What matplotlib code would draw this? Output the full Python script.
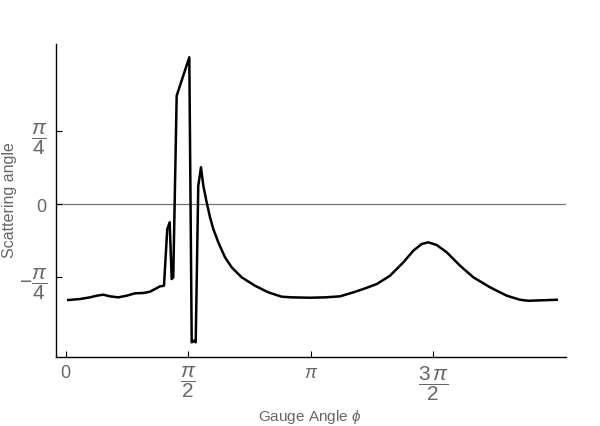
import numpy as np
import matplotlib
matplotlib.use("Agg")
import matplotlib.pyplot as plt

plt.rcParams['mathtext.fontset'] = 'custom'
plt.rcParams['mathtext.rm'] = 'Liberation Sans'
plt.rcParams['mathtext.it'] = 'Liberation Sans:italic'
plt.rcParams['font.family'] = ['Liberation Sans', 'DejaVu Sans']

# Data (radians)
phi = [0.030, 0.180, 0.308, 0.394, 0.479, 0.565, 0.671, 0.779, 0.886, 0.992,
       1.078, 1.142, 1.207, 1.258, 1.300, 1.331, 1.357, 1.377, 1.421, 1.583,
       1.614, 1.643, 1.665, 1.698, 1.733, 1.763, 1.806, 1.849, 1.891, 1.955,
       2.041, 2.127, 2.255, 2.426, 2.597, 2.769, 2.897, 3.132, 3.325, 3.517,
       3.688, 3.816, 3.988, 4.159, 4.330, 4.458, 4.566, 4.651, 4.759, 4.887,
       5.058, 5.229, 5.443, 5.657, 5.828, 5.935, 6.299]
theta = [-1.040, -1.029, -1.011, -0.993, -0.982, -1.000, -1.011, -0.993, -0.967, -0.964,
         -0.950, -0.921, -0.892, -0.885, -0.271, -0.198, -0.813, -0.794, 1.173, 1.589,
         -1.498, -1.481, -1.498, 0.198, 0.398, 0.198, 0.018, -0.144, -0.271, -0.415,
         -0.577, -0.686, -0.794, -0.885, -0.957, -1.004, -1.011, -1.015, -1.011, -1.000,
         -0.957, -0.921, -0.867, -0.777, -0.632, -0.506, -0.433, -0.415, -0.444, -0.523,
         -0.668, -0.794, -0.902, -0.993, -1.037, -1.048, -1.037]

xticks = [0, np.pi/2, np.pi, 3*np.pi/2]
xticklabels = [r'$\mathrm{0}$', r'$\dfrac{\pi}{2}$', r'$\pi$', r'$\dfrac{3\,\pi}{2}$']
yticks = [-np.pi/4, 0, np.pi/4]
yticklabels = [r'$-\dfrac{\pi}{4}$', r'$\mathrm{0}$', r'$\dfrac{\pi}{4}$']

fig = plt.figure(figsize=(6, 4.27), dpi=100)
ax = fig.add_axes([56/600, 1-358/427, 510/600, 313/427])
ax.set_xlim(-0.128, 6.418)
ax.set_ylim(-1.657, 1.733)

ax.axhline(0, color='#777777', lw=0.9, zorder=1)
ax.plot(phi, theta, color='black', lw=1.8, solid_joinstyle='round', zorder=3)

for s in ['top', 'right']:
    ax.spines[s].set_visible(False)
for s in ['left', 'bottom']:
    ax.spines[s].set_linewidth(1.0)

gray = '#666666'
ax.set_xticks(xticks)
ax.set_xticklabels(xticklabels, fontsize=15, color=gray)
ax.set_yticks(yticks)
ax.set_yticklabels(yticklabels, fontsize=15, color=gray)
ax.tick_params(direction='in', length=4, width=0.8)
ax.tick_params(axis='x', pad=5)
ax.tick_params(axis='y', pad=6)
for lab in ax.get_xticklabels():
    lab.set_verticalalignment('top')
for lab in [ax.get_xticklabels()[0], ax.get_xticklabels()[2]]:
    lab.set_fontsize(13)
ax.get_yticklabels()[1].set_fontsize(13)

fig.text(310/600, 1-417/427, r'Gauge Angle $\phi$', fontsize=11, color=gray,
         ha='center', va='center')
fig.text(10/600, 1-200/427, 'Scattering angle', fontsize=11.5, color=gray,
         ha='center', va='center', rotation=90)

fig.savefig('out.png', dpi=100)
